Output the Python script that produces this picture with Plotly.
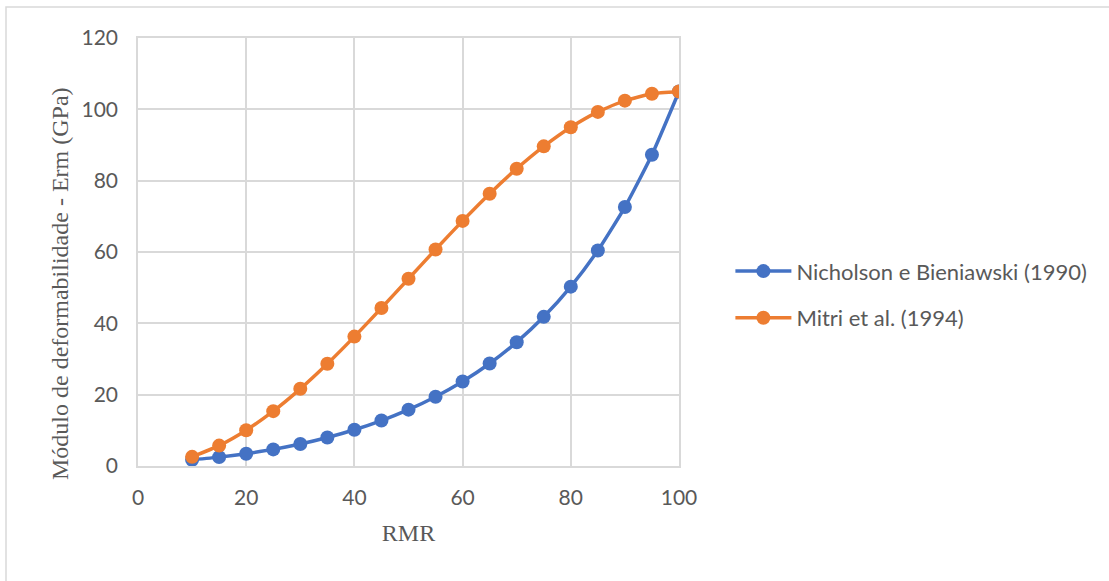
import plotly.graph_objects as go

rmr = [10, 15, 20, 25, 30, 35, 40, 45, 50, 55, 60, 65, 70, 75, 80, 85, 90, 95, 100]
nicholson = [1.76, 2.49, 3.45, 4.66, 6.16, 7.98, 10.16, 12.74, 15.80, 19.42, 23.68,
             28.73, 34.71, 41.82, 50.29, 60.43, 72.60, 87.27, 105.0]
mitri = [2.57, 5.72, 10.03, 15.38, 21.64, 28.66, 36.28, 44.29, 52.50, 60.71, 68.72,
         76.34, 83.36, 89.62, 94.97, 99.28, 102.43, 104.35, 105.0]

series_names = ["Nicholson e Bieniawski (1990)", "Mitri et al. (1994)"]
colors = ["#4472C4", "#ED7D31"]
x_ticks = [0, 20, 40, 60, 80, 100]
y_ticks = [0, 20, 40, 60, 80, 100, 120]
x_title = "RMR"
y_title = "Módulo de deformabilidade - Erm (GPa)"

fig = go.Figure()
for i, (name, vals) in enumerate(zip(series_names, [nicholson, mitri])):
    fig.add_trace(go.Scatter(
        x=rmr, y=vals, name=name, mode="lines+markers",
        line=dict(color=colors[i], width=3.5, shape="spline", smoothing=0.5),
        marker=dict(color=colors[i], size=14),
        legendgroup=f"g{i}",
    ))

grid = "#d9d9d9"
serif = "Liberation Serif, Times New Roman, serif"
tickfont = dict(family="Lato, Open Sans, sans-serif", size=21, color="#595959")
fig.update_layout(
    width=1109, height=581,
    margin=dict(l=138, r=430, t=38, b=115),
    paper_bgcolor="white", plot_bgcolor="white",
    xaxis=dict(range=[0, 100], tickvals=x_ticks, showgrid=True, gridcolor=grid, gridwidth=1.5,
               zeroline=False, showline=True, mirror=True, linecolor=grid, linewidth=1.5,
               tickfont=tickfont, ticks="", ticklabelstandoff=12,
               title=dict(text=x_title, font=dict(family=serif, size=24, color="#595959"), standoff=16)),
    yaxis=dict(range=[0, 120], tickvals=y_ticks, showgrid=True, gridcolor=grid, gridwidth=1.5,
               zeroline=False, showline=True, mirror=True, linecolor=grid, linewidth=1.5,
               tickfont=tickfont, ticks="", ticklabelstandoff=14),
    legend=dict(x=1.095, xanchor="left", y=0.40, yanchor="middle",
                font=dict(family="Lato, Open Sans, sans-serif", size=22, color="#595959"),
                traceorder="grouped", tracegroupgap=15, itemwidth=56),
    showlegend=True,
    annotations=[dict(text=y_title, textangle=-90, xref="paper", yref="paper",
                      x=(60 - 138) / 541, y=1 - (284 - 38) / 428, xanchor="center", yanchor="middle",
                      showarrow=False, font=dict(family=serif, size=24, color="#595959"))],
    shapes=[dict(type="rect", xref="paper", yref="paper",
                 x0=(6 - 138) / 541, x1=(1120 - 138) / 541,
                 y0=-(600 - 466) / 428, y1=1 + (38 - 7) / 428,
                 line=dict(color=grid, width=1.5), fillcolor="rgba(0,0,0,0)", layer="below")],
)

fig.write_html("out.html")
